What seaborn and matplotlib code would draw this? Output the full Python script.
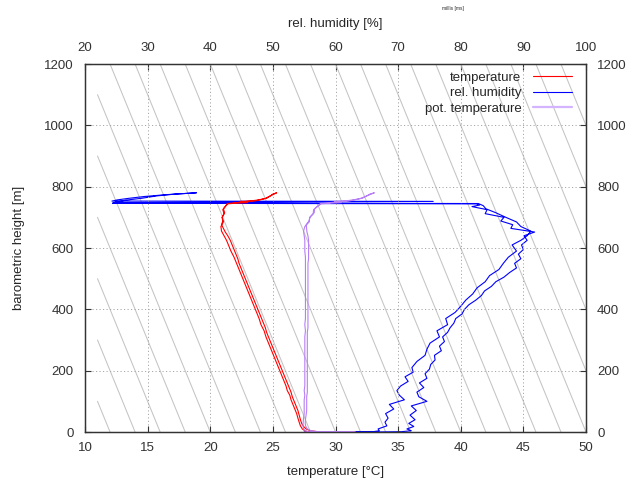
import numpy as np
import pandas as pd
import seaborn as sns
import matplotlib
matplotlib.use("Agg")
import matplotlib.pyplot as plt
from matplotlib.lines import Line2D

sns.set_style("white")
plt.rcParams['font.family'] = ['Liberation Sans', 'DejaVu Sans']

# ascent
h_up = [0, 0, 0, 1, 4, 10, 20, 32, 45, 60, 75, 90, 105, 120, 135, 150, 165, 180, 195, 210,
        230, 250, 270, 290, 310, 330, 350, 370, 390, 410, 430, 450, 470, 490, 510, 530, 550,
        570, 590, 610, 625, 640, 655, 670, 685, 700, 715, 728, 738, 745, 747, 750, 756, 762,
        770, 776, 780]
temp_up = [31.5, 30.0, 28.6, 27.8, 27.55, 27.35, 27.2, 27.1, 27.0, 26.9, 26.75, 26.6, 26.45,
           26.35, 26.15, 26.05, 25.9, 25.75, 25.6, 25.45, 25.25, 25.05, 24.85, 24.65, 24.45,
           24.3, 24.05, 23.9, 23.7, 23.5, 23.3, 23.1, 22.9, 22.7, 22.5, 22.3, 22.1, 21.9,
           21.65, 21.45, 21.3, 21.1, 20.9, 20.85, 21.05, 20.95, 21.15, 21.05, 21.25, 21.35,
           21.9, 22.5, 23.7, 24.5, 24.8, 25.0, 25.3]
hum_up = [55.0, 59.0, 63.0, 66.0, 67.0, 66.8, 68.2, 67.9, 68.4, 68.0, 69.3, 68.6, 71.0, 70.2,
          69.8, 70.4, 71.6, 71.1, 72.4, 72.2, 73.0, 74.3, 74.6, 75.1, 76.6, 76.2, 77.9, 77.6,
          79.1, 80.0, 80.8, 81.9, 82.6, 83.9, 84.6, 86.1, 86.8, 87.6, 88.9, 88.2, 89.6, 90.6,
          91.2, 89.6, 88.9, 87.2, 85.6, 84.0, 83.6, 82.8, 24.5, 25.0, 26.5, 29.0, 31.5, 34.5,
          37.8]
theta_up = [31.5, 30.0, 28.6, 27.81, 27.59, 27.45, 27.4, 27.42, 27.45, 27.5, 27.5, 27.5, 27.5,
            27.55, 27.5, 27.55, 27.55, 27.55, 27.55, 27.55, 27.55, 27.55, 27.55, 27.55, 27.55,
            27.6, 27.55, 27.6, 27.6, 27.6, 27.6, 27.6, 27.6, 27.6, 27.6, 27.6, 27.6, 27.6,
            27.55, 27.55, 27.55, 27.5, 27.45, 27.55, 27.9, 27.95, 28.3, 28.33, 28.63, 28.8,
            29.37, 30.0, 31.26, 32.12, 32.5, 32.76, 33.1]

# descent
h_dn = [780, 774, 768, 762, 757, 753, 752, 748, 746, 744, 740, 735, 725, 712, 700, 688, 676,
        664, 652, 640, 625, 610, 595, 580, 565, 550, 535, 520, 505, 490, 475, 460, 445, 430,
        415, 400, 385, 370, 355, 340, 325, 310, 295, 280, 265, 250, 235, 220, 205, 190, 175,
        160, 145, 130, 115, 100, 85, 70, 55, 40, 28, 18, 10, 4, 1, 0, 0, 0]
temp_dn = [25.3, 25.0, 24.7, 24.4, 24.0, 23.5, 22.4, 23.0, 22.0, 21.4, 21.3, 21.2, 21.0, 21.1,
           20.95, 21.0, 20.9, 21.05, 21.2, 21.4, 21.6, 21.75, 21.9, 22.05, 22.2, 22.3, 22.45,
           22.6, 22.75, 22.9, 23.05, 23.2, 23.35, 23.5, 23.65, 23.8, 23.95, 24.1, 24.25, 24.4,
           24.5, 24.65, 24.8, 24.95, 25.1, 25.25, 25.4, 25.55, 25.7, 25.85, 26.0, 26.15, 26.3,
           26.45, 26.55, 26.7, 26.85, 27.0, 27.1, 27.2, 27.3, 27.45, 27.65, 28.0, 28.6, 29.5,
           30.5, 31.6]
hum_dn = [37.8, 33.0, 29.5, 27.0, 25.2, 24.3, 75.6, 24.8, 24.4, 82.5, 83.0, 81.8, 84.2, 83.9,
          86.9, 86.4, 88.3, 88.0, 91.8, 90.1, 90.6, 89.7, 90.0, 89.2, 89.6, 88.6, 88.9, 87.8,
          86.9, 85.6, 84.9, 83.8, 83.3, 82.4, 81.3, 80.6, 80.2, 79.2, 78.9, 78.3, 77.9, 77.1,
          77.4, 76.6, 76.9, 75.8, 75.9, 75.2, 75.0, 74.3, 74.6, 73.4, 74.1, 73.0, 73.3, 74.6,
          72.1, 72.9, 71.9, 72.7, 71.7, 72.5, 71.4, 72.1, 70.5, 66.0, 62.0, 58.0]
theta_dn = [33.1, 32.74, 32.38, 32.02, 31.57, 31.03, 29.92, 30.48, 29.46, 28.84, 28.7, 28.55,
            28.25, 28.22, 27.95, 27.88, 27.66, 27.69, 27.72, 27.8, 27.85, 27.85, 27.85, 27.85,
            27.85, 27.8, 27.8, 27.8, 27.8, 27.8, 27.8, 27.8, 27.8, 27.8, 27.8, 27.8, 27.8,
            27.8, 27.8, 27.8, 27.75, 27.75, 27.75, 27.75, 27.75, 27.75, 27.75, 27.75, 27.75,
            27.75, 27.75, 27.75, 27.75, 27.75, 27.7, 27.7, 27.7, 27.7, 27.65, 27.6, 27.58,
            27.63, 27.75, 28.04, 28.61, 29.5, 30.5, 31.6]

# dry adiabats in the background (pot. temperature at ground, K per m)
adiabat_theta = list(range(12, 64, 2))
lapse = 0.01

height = h_up + h_dn
temp = temp_up + temp_dn
hum = hum_up + hum_dn
theta = theta_up + theta_dn

fig = plt.figure(figsize=(6.3, 4.83), dpi=100)
ax = fig.add_axes([0.13492, 0.10559, 0.79524, 0.76190])
ax2 = ax.twiny()
ax.set_zorder(ax2.get_zorder() + 1)
ax.patch.set_visible(False)

ax.set_xlim(10, 50)
ax.set_ylim(0, 1200)
ax2.set_xlim(20, 100)

# adiabats (drawn on the lower axes, temperature coordinates)
for th in adiabat_theta:
    t0 = max(11, th - 1200 * lapse)
    ax2.plot([t0, th], [(th - t0) / lapse, 0], color='#c4c4c4', lw=0.75,
             transform=ax.transData, clip_on=True)

sns.lineplot(x=hum, y=height, sort=False, estimator=None, color='#0000ff', lw=0.8, ax=ax2)
sns.lineplot(x=temp, y=height, sort=False, estimator=None, color='#ff0000', lw=0.8, ax=ax)
sns.lineplot(x=theta, y=height, sort=False, estimator=None, color='#b77ff5', lw=0.8, ax=ax)

ax.set_xticks(np.arange(10, 51, 5))
ax.set_yticks(np.arange(0, 1201, 200))
ax2.set_xticks(np.arange(20, 101, 10))
ax.grid(True, color='#a8a8a8', ls=(0, (1.2, 2.4)), lw=0.7)
ax.set_axisbelow(True)

fs = 9.5
ax.tick_params(axis='x', direction='in', length=4, width=0.8, bottom=True, top=False,
               labelsize=fs, pad=7, colors='#333333')
ax.tick_params(axis='y', direction='in', length=4, width=0.8, left=True, right=True,
               labelleft=True, labelright=True, labelsize=fs, pad=8, colors='#333333')
ax2.tick_params(axis='x', direction='in', length=4, width=0.8, top=True, bottom=False,
                labelsize=fs, pad=7, colors='#333333')
for sp in list(ax.spines.values()) + list(ax2.spines.values()):
    sp.set_color('#333333')
    sp.set_linewidth(0.9)

ax.set_xlabel('temperature [°C]', fontsize=fs, labelpad=9)
ax.set_ylabel('barometric height [m]', fontsize=fs, labelpad=14)
ax2.set_xlabel('rel. humidity [%]', fontsize=fs, labelpad=11)
fig.text(0.719, 0.983, 'millis [ms]', fontsize=3.5, ha='center', va='center')

handles = [Line2D([], [], color='#ff0000', lw=0.8),
           Line2D([], [], color='#0000ff', lw=0.8),
           Line2D([], [], color='#d4b4ff', lw=1.6)]
ax.legend(handles, ['temperature', 'rel. humidity', 'pot. temperature'],
          loc='upper right', bbox_to_anchor=(0.995, 1.012), frameon=False, markerfirst=False,
          fontsize=fs, handlelength=2.9, handletextpad=0.9, labelspacing=0.25,
          borderpad=0.4)

fig.savefig('out.png', dpi=100, facecolor='white')
